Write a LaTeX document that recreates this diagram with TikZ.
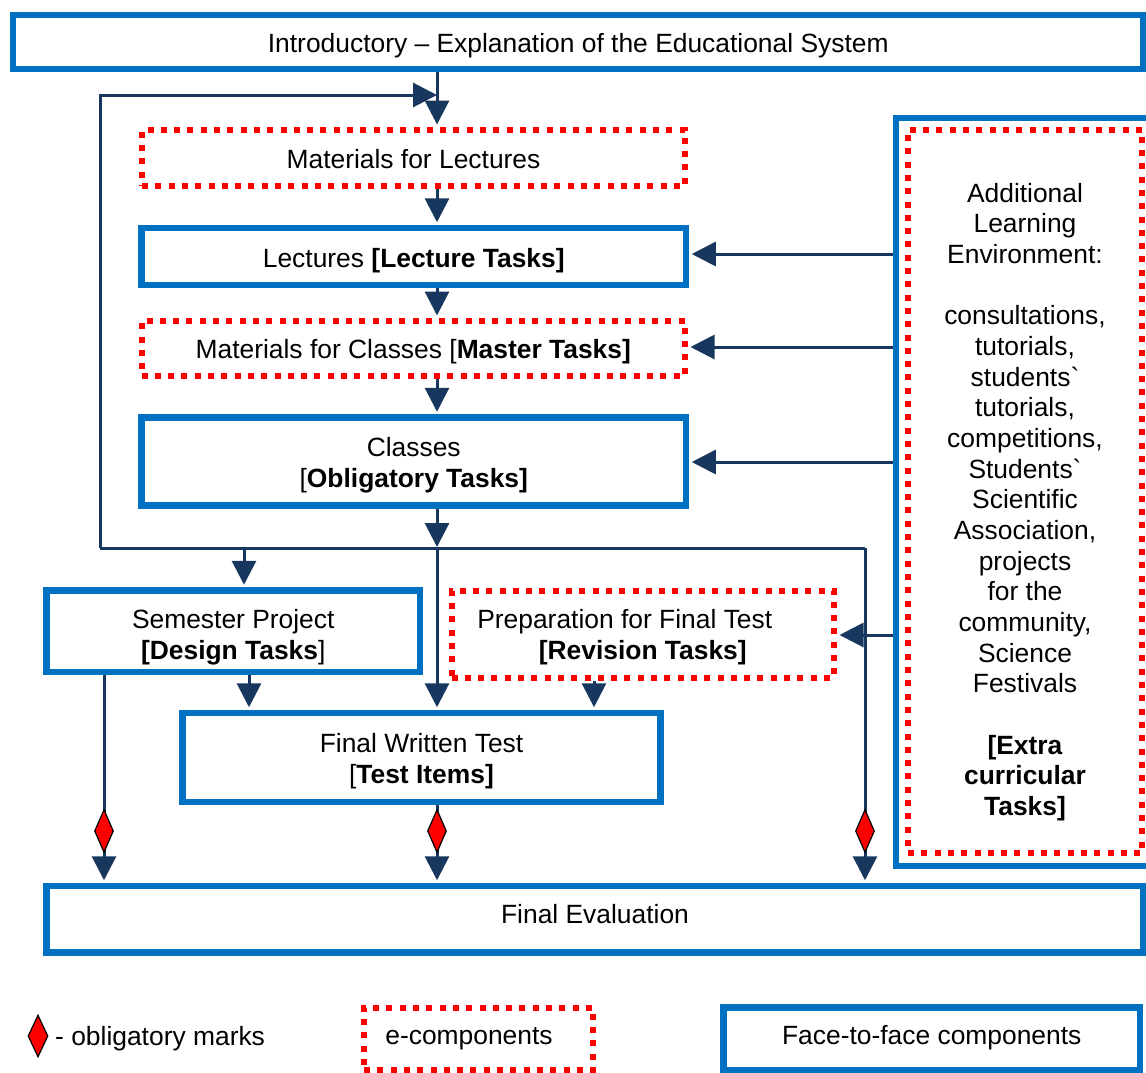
\documentclass[tikz,border=0pt]{standalone}
\usepackage{fontspec}
\setmainfont{Liberation Sans}
\usetikzlibrary{arrows.meta,shapes.geometric}
\definecolor{fblue}{HTML}{0070C0}
\definecolor{navy}{HTML}{17375E}
\definecolor{ered}{HTML}{FF0000}
\begin{document}
\begin{tikzpicture}[x=1pt,y=-1pt,
  font=\fontsize{26.4}{31}\selectfont,
  f2f/.style={draw=fblue, line width=6.5pt, rectangle, inner sep=0pt, align=center},
  ecomp/.style={draw=ered, line width=6pt, dash pattern=on 6pt off 7.3pt, rectangle, inner sep=0pt, align=center},
  conn/.style={draw=navy, line width=3pt},
  arr/.style={conn, -{Triangle[width=24pt,length=24pt]}, shorten >=2.5pt},
  obl/.style={diamond, draw=black, fill=ered, line width=1.2pt, minimum width=19pt, minimum height=43pt, inner sep=0pt},
  txt/.style={inner sep=0pt, align=center},
  oneline/.style={text height=24pt, text depth=3pt},
  twoline/.style={text height=53pt, text depth=2pt},
]
\useasboundingbox (0,0) rectangle (1146,1072);
\clip (0,0) rectangle (1146,1072);

% boxes
\node[f2f, oneline, minimum width=1130.5pt, minimum height=54pt] (intro) at (578.25,42) {Introductory – Explanation of the Educational System};
\node[ecomp, oneline, minimum width=543pt, minimum height=56pt] (matlec) at (413.5,158) {Materials for Lectures};
\node[f2f, oneline, minimum width=544.5pt, minimum height=57pt] (lec) at (413.75,256.5) {Lectures \textbf{[Lecture Tasks]}};
\node[ecomp, oneline, minimum width=543.5pt, minimum height=54.5pt] (matcls) at (413.25,348.25) {Materials for Classes [\textbf{Master Tasks]}};
\node[f2f, twoline, minimum width=544.5pt, minimum height=88pt] (classes) at (413.75,461.5) {Classes\\{[}\textbf{Obligatory Tasks]}};
\node[f2f, text height=56pt, text depth=0pt, minimum width=373.5pt, minimum height=81.5pt] (sem) at (233.25,631.25) {Semester Project\\\textbf{[Design Tasks}]};
\node[ecomp, twoline, minimum width=382.5pt, minimum height=87pt] (prep) at (642.75,634) {Preparation for Final Test\hspace*{36pt}\\\textbf{[Revision Tasks]}};
\node[f2f, twoline, minimum width=478pt, minimum height=89pt] (fwt) at (421.5,757.5) {Final Written Test\\{[}\textbf{Test Items]}};
\node[f2f, text height=24pt, text depth=15pt, minimum width=1097pt, minimum height=66.5pt] (final) at (595,919.25) {Final Evaluation};
\node[f2f, minimum width=269pt, minimum height=748pt] (aleo) at (1030.5,492) {};
\node[ecomp, minimum width=234pt, minimum height=723.5pt] (ale) at (1025,491.25) {};
\node[txt, font=\fontsize{26.4}{30.65}\selectfont] (aletxt) at (1025,502) {Additional\\Learning\\Environment:\\~\\consultations,\\tutorials,\\students\textasciigrave\\tutorials,\\competitions,\\Students\textasciigrave\\Scientific\\Association,\\projects\\for the\\community,\\Science\\Festivals\\~\\\textbf{[Extra}\\\textbf{curricular}\\\textbf{Tasks]}};

% helper coordinates
\coordinate (cA) at (437,0);
\coordinate (c104) at (104,0);
\coordinate (c244) at (244,0);
\coordinate (c249) at (249,0);
\coordinate (c594) at (594,0);
\coordinate (jL) at (100,548);
\coordinate (jR) at (865,548);
\coordinate (loopT) at (437,95);
\coordinate (y254) at (0,254);
\coordinate (y347) at (0,347);
\coordinate (y462) at (0,462);
\coordinate (y635) at (0,635);

% connectors
\draw[arr] (intro.south -| cA) -- (matlec.north -| cA);
\draw[arr, shorten >=0pt] (jL) |- (loopT);
\draw[arr] (matlec.south -| cA) -- (lec.north -| cA);
\draw[arr] (lec.south -| cA) -- (matcls.north -| cA);
\draw[arr] (matcls.south -| cA) -- (classes.north -| cA);
\draw[arr, shorten >=1pt] (classes.south -| cA) -- (cA |- jL);
\draw[conn] (jL) -- (jR);
\draw[arr] (c244 |- jL) -- (sem.north -| c244);
\draw[arr] (cA |- jL) -- (fwt.north -| cA);
\draw[arr] (sem.south -| c249) -- (fwt.north -| c249);
\draw[arr] (prep.south -| c594) -- (fwt.north -| c594);
\draw[arr] (sem.south -| c104) -- (final.north -| c104);
\draw[arr] (fwt.south -| cA) -- (final.north -| cA);
\draw[arr] (jR) -- (final.north -| jR);
\draw[arr] (aleo.west |- y254) -- (lec.east |- y254);
\draw[arr] (aleo.west |- y347) -- (matcls.east |- y347);
\draw[arr] (aleo.west |- y462) -- (classes.east |- y462);
\draw[arr] (aleo.west |- y635) -- (prep.east |- y635);

% obligatory marks
\node[obl] (m1) at (104,831) {};
\node[obl] (m2) at (437,831) {};
\node[obl] (m3) at (865,831) {};

% legend
\node[obl, minimum width=20pt, minimum height=42pt] (m0) at (38,1036) {};
\node[txt, oneline, anchor=west] (legOtxt) at (55,1035) {- obligatory marks};
\node[ecomp, minimum width=229pt, minimum height=62.5pt] (legE) at (478.5,1038.75) {};
\node[txt, oneline] (legEtxt) at (469,1034) {e-components};
\node[f2f, text height=24pt, text depth=12.5pt, minimum width=416.5pt, minimum height=62.5pt] (legF) at (931.75,1038.75) {Face-to-face components};
\end{tikzpicture}
\end{document}
